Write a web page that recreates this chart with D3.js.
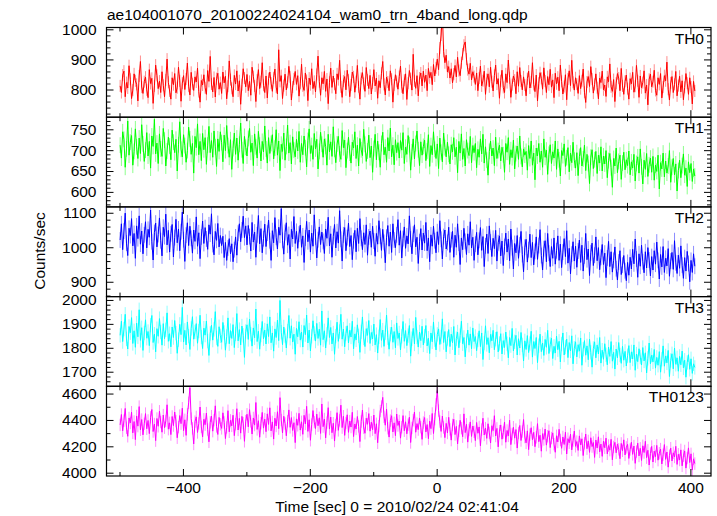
<!DOCTYPE html>
<html><head><meta charset="utf-8">
<script src="https://cdn.jsdelivr.net/npm/d3@7"></script>
<style>body{margin:0;background:#fff}svg{display:block;font-family:"Liberation Sans",Arial,sans-serif}</style>
</head><body><svg id="c" width="717" height="516"></svg>
<script>
const title = "ae104001070_20100224024104_wam0_trn_4band_long.qdp";
const xLabel = "Time [sec] 0 = 2010/02/24 02:41:04";
const yLabel = "Counts/sec";
const bandNames = ["TH0","TH1","TH2","TH3","TH0123"];
const bandColors = ["#ff0000","#00ff00","#0000ff","#00ffff","#ff00ff"];
const tStart = -499, binSize = 2;
const xTicksMajor = [-400,-200,0,200,400];
const xTicksMinor = [-500,-300,-100,100,300];
const yDomains = [[708,1006],[564,779],[857,1117],[1639,2014],[3975,4655]];
const yTicksMajor = [[800,900,1000],[600,650,700,750],[900,1000,1100],[1700,1800,1900,2000],[4000,4200,4400,4600]];
const yMinorStep = [20,10,20,20,100];
const errors = [20,19,23,30,47];

const th0 = [812,790,848,861,776,823,805,879,834,770,798,852,829,817,762,845,893,808,787,826,
841,799,773,866,820,837,754,812,881,847,803,828,790,859,814,776,832,901,824,795,
768,839,816,853,789,806,874,829,761,821,846,800,835,888,811,782,857,819,797,842,
825,871,793,758,830,815,849,806,784,863,827,910,818,792,840,775,836,854,801,823,
787,858,822,844,769,811,895,833,804,776,847,818,862,795,829,751,816,869,838,809,
850,796,827,781,874,843,812,760,831,866,803,826,889,814,790,845,772,836,858,821,
794,839,868,808,785,932,827,846,770,813,851,799,824,877,842,765,808,835,860,817,
846,778,821,884,812,797,855,830,763,838,816,869,803,827,792,850,911,826,781,839,
819,860,794,835,753,824,871,807,845,818,786,852,833,897,809,774,828,843,799,864,
831,776,815,858,842,791,826,880,809,768,837,856,820,794,873,832,803,847,785,822,
866,812,838,771,829,806,854,893,817,782,841,825,796,862,834,758,815,849,827,801,
843,878,809,786,831,852,767,821,863,836,798,917,829,804,846,779,838,855,812,861,
824,848,796,870,839,857,816,883,845,872,901,866,938,981,1052,927,889,914,858,876,
838,869,822,851,880,842,907,863,846,889,918,947,958,901,866,851,887,832,859,843,
817,855,796,838,878,812,829,861,784,833,852,809,874,826,795,847,881,818,836,771,
829,864,807,790,852,823,898,839,774,816,845,831,786,859,811,873,828,799,842,815,
779,836,861,805,825,889,817,793,848,762,821,856,837,801,872,828,790,843,816,867,
808,832,773,854,819,841,796,881,827,785,810,849,766,835,862,813,897,824,798,839,
818,787,846,803,829,868,791,757,825,843,810,876,835,788,817,852,806,769,838,823,
861,799,815,777,842,826,885,809,794,833,760,821,853,838,796,870,812,784,827,848,
803,768,836,819,857,791,811,880,829,774,845,806,823,862,788,815,749,834,851,809,
826,864,797,781,839,817,853,772,808,846,829,891,801,765,822,843,790,817,860,779,
813,844,792,829,766,807,853,821,784,839,808,752,827,795];
const th1 = [712,681,744,726,659,703,770,688,719,735,664,697,751,708,680,729,692,761,715,673,
700,742,686,721,657,734,709,774,691,717,668,739,703,685,752,724,662,698,731,710,
677,748,719,694,726,650,713,768,702,684,737,711,671,699,755,727,690,716,645,733,
706,763,689,721,675,740,701,730,666,712,757,694,723,683,746,708,661,727,697,744,
718,672,736,699,759,711,683,725,654,704,741,690,729,676,714,765,701,668,733,707,
686,728,752,695,717,663,739,708,681,745,712,674,721,696,758,703,669,730,692,716,
737,679,705,749,688,722,651,714,697,741,676,709,760,693,718,667,732,700,684,726,
698,745,671,716,689,734,706,660,723,751,692,711,678,740,703,726,655,697,743,714,
683,727,709,664,738,696,720,685,756,702,670,715,733,691,678,747,706,724,658,699,
731,693,669,719,705,744,680,712,662,728,701,687,750,714,673,698,736,682,710,647,
704,738,677,722,695,659,716,743,689,707,671,730,698,753,684,712,665,725,694,718,
681,723,700,742,668,707,690,735,713,652,696,727,679,716,746,701,663,720,688,709,
724,675,698,737,661,711,689,744,702,680,715,656,729,695,672,741,706,684,719,690,
667,713,696,730,684,707,646,721,693,739,678,704,662,725,699,687,733,670,711,694,
716,658,702,683,727,691,738,669,708,676,640,697,722,686,705,663,731,680,699,712,
674,707,689,647,716,695,730,666,701,682,724,655,692,710,678,734,685,660,703,688,
697,652,711,680,722,664,693,629,705,686,716,671,698,659,727,683,700,642,690,713,
668,696,681,722,654,703,677,638,699,687,715,661,682,706,648,693,670,719,676,657,
694,639,685,706,662,679,712,651,690,668,620,683,701,656,677,697,644,688,669,708,
650,686,667,699,634,675,692,658,611,680,662,705,646,673,688,630,669,695,653,677,
663,698,641,672,657,690,626,668,684,645,703,660,619,676,654,692,637,665,681,647,
685,628,664,649,688,607,670,655,693,636,674,645,662,699,623,659,680,641,667,602,
651,676,634,663,691,640,657,613,672,646,668,625,655,638];
const th2 = [1021,1068,993,1047,1099,1012,976,1055,1034,1083,1004,1040,968,1062,1025,1091,1009,1047,981,1036,
1074,998,1052,1029,1108,1016,963,1043,1070,1001,1037,1085,1019,975,1058,1031,1096,1007,1049,986,
1039,1066,972,1028,1081,1013,1053,990,1045,1102,1022,959,1035,1071,1005,1061,1026,983,1050,1017,
1088,1003,1042,967,1030,1076,1011,1057,1024,994,1065,1038,1097,1008,978,1046,1020,1069,1001,1034,
1005,1032,970,1014,962,998,1025,981,1010,958,993,1030,977,1041,1068,1016,1050,1090,1028,1062,
1007,1063,1031,989,1072,1015,1044,971,1036,1092,1010,1054,984,1025,1067,1002,1041,1079,1019,962,
1048,1013,1086,1029,995,1058,1035,1112,1020,980,1043,1071,1006,1037,966,1052,1024,1089,1011,1046,
997,1038,1064,1000,1033,956,1027,1075,1016,1050,986,1041,1003,1094,1030,969,1022,1059,1008,1044,
1017,982,1053,1026,1087,1004,1039,971,1031,1066,998,1045,1012,1106,1023,960,1036,1057,990,1028,
1070,1002,1034,964,1019,1049,987,1055,1011,1083,1026,993,1042,1008,1065,977,1030,1047,1000,1061,
1018,974,1040,1009,1077,1032,991,1052,1014,955,1029,1063,1003,1044,985,1068,1021,999,1036,1080,
1006,1048,969,1025,1059,997,1033,1010,1091,1024,981,1038,1065,1001,1029,953,1016,1054,992,1041,
1012,1072,990,1027,958,1036,1003,1061,1019,984,1045,1008,1077,1023,966,1031,1050,995,1014,1058,
985,1022,1046,971,1035,1000,1068,1012,950,1027,993,1055,1017,979,1039,1006,1074,998,1029,962,
1009,1043,978,1020,1057,991,1031,944,1004,1038,982,1062,1015,973,1026,996,1049,960,1013,1033,
975,1018,947,1002,1041,986,1024,961,1053,999,937,1011,984,1034,968,1007,1046,979,929,1000,
1023,957,993,1038,970,1014,949,988,1030,965,1005,1051,976,934,996,1019,958,1040,983,944,
1002,968,1027,951,990,1033,962,1009,941,986,1025,973,1048,954,997,923,980,1016,960,1003,
942,989,1021,956,1006,931,975,1040,964,995,918,984,1012,947,977,1030,961,999,935,971,
1008,950,983,912,969,1017,944,987,928,962,1001,938,905,957,990,921,948,976,932,903,
956,919,971,937,994,952,1024,966,913,981,945,1006,958,926,987,940,999,963,917,973,
934,990,951,1015,962,908,979,943,1002,927,968,946,996,916,960,985,936,1019,955,924,
977,939,1004,948,910,970,931,988,953,900,962,927,981,945];
const th3 = [1852,1911,1826,1878,1940,1837,1795,1889,1863,1926,1818,1871,1802,1903,1846,1959,1831,1884,1789,1862,
1917,1840,1868,1809,1895,1935,1822,1857,1783,1880,1848,1922,1866,1811,1901,1838,1875,1946,1827,1859,
1804,1887,1843,1914,1861,1777,1834,1898,1855,1969,1824,1873,1812,1908,1849,1793,1881,1930,1836,1866,
1901,1819,1870,1936,1845,1797,1882,1853,1912,1828,1768,1860,1894,1832,1877,1951,1841,1806,1888,1850,
1823,1906,1864,1790,1847,1925,1817,1872,1839,1897,1801,1858,1943,1829,1876,1812,1891,1852,1760,1868,
1896,1835,1920,1857,1807,1883,1842,1962,1826,1869,1794,1853,1910,1838,1874,1816,1900,1847,1929,1821,
1862,1786,1879,1843,1916,1830,1998,1865,1813,1887,1851,1799,1870,1935,1840,1892,1824,1857,1773,1881,
1846,1909,1832,1866,1803,1893,1855,1937,1820,1874,1787,1848,1913,1860,1828,1902,1839,1878,1811,1954,
1834,1871,1799,1856,1925,1843,1885,1816,1862,1773,1849,1907,1827,1868,1940,1836,1878,1804,1860,1892,
1820,1873,1845,1911,1796,1858,1833,1896,1850,1781,1867,1929,1841,1805,1880,1852,1914,1818,1864,1837,
1899,1812,1855,1778,1846,1918,1831,1874,1806,1863,1937,1842,1794,1857,1886,1823,1868,1800,1904,1839,
1862,1791,1848,1910,1827,1872,1809,1851,1893,1765,1838,1881,1816,1927,1845,1803,1866,1830,1890,1812,
1849,1893,1808,1840,1776,1862,1825,1908,1834,1791,1856,1879,1814,1845,1921,1822,1868,1783,1839,1876,
1805,1857,1821,1889,1770,1838,1866,1800,1851,1911,1817,1843,1762,1829,1874,1811,1858,1796,1883,1826,
1847,1788,1833,1871,1805,1862,1751,1820,1892,1814,1842,1779,1856,1829,1873,1792,1836,1867,1783,1818,
1859,1774,1830,1801,1866,1817,1758,1843,1809,1881,1787,1825,1852,1770,1838,1799,1864,1812,1745,1829,
1793,1851,1780,1818,1869,1761,1826,1797,1843,1738,1809,1857,1784,1820,1768,1835,1802,1873,1776,1814,
1840,1755,1806,1778,1849,1792,1827,1741,1816,1862,1770,1803,1836,1759,1822,1787,1850,1733,1798,1825,
1762,1813,1786,1841,1727,1794,1830,1769,1808,1750,1836,1781,1719,1797,1825,1758,1812,1774,1843,1736,
1790,1752,1817,1771,1729,1803,1764,1826,1744,1781,1711,1795,1758,1822,1770,1735,1806,1748,1785,1724,
1767,1809,1738,1783,1753,1812,1706,1774,1742,1796,1761,1728,1801,1745,1779,1695,1756,1820,1733,1769,
1741,1793,1715,1760,1727,1784,1698,1752,1808,1723,1766,1737,1789,1680,1747,1775,1712,1799,1731,1758,
1702,1764,1729,1786,1716,1748,1677,1739,1771,1710,1754,1693,1733,1718];
const th0123 = [4362,4441,4318,4395,4487,4340,4276,4415,4377,4459,4302,4388,4251,4430,4353,4501,4325,4403,4287,4371,
4448,4333,4396,4296,4420,4479,4312,4369,4243,4411,4352,4466,4384,4307,4437,4341,4392,4515,4330,4378,
4289,4426,4357,4460,4391,4265,4346,4433,4372,4489,4319,4401,4283,4442,4530,4645,4410,4336,4218,4387,
4423,4305,4374,4498,4347,4272,4405,4364,4452,4327,4234,4382,4429,4315,4398,4507,4350,4290,4419,4367,
4336,4454,4381,4259,4343,4470,4310,4397,4355,4436,4281,4368,4485,4324,4412,4300,4427,4376,4238,4391,
4443,4348,4478,4389,4293,4415,4361,4532,4328,4394,4269,4375,4457,4338,4406,4311,4446,4366,4492,4317,
4385,4255,4413,4354,4462,4334,4569,4399,4302,4428,4373,4280,4390,4476,4344,4418,4320,4379,4228,4408,
4359,4450,4323,4386,4291,4435,4370,4503,4313,4401,4246,4365,4471,4383,4335,4444,4356,4416,4298,4521,
4349,4407,4264,4380,4493,4331,4422,4303,4375,4240,4362,4455,4321,4397,4512,4342,4428,4283,4377,4439,
4306,4391,4346,4458,4274,4369,4332,4426,4351,4236,4388,4475,4340,4299,4413,4367,4448,4315,4383,4326,
4437,4296,4371,4227,4353,4468,4502,4571,4424,4360,4482,4337,4270,4395,4432,4309,4378,4281,4445,4358,
4392,4262,4345,4433,4318,4386,4295,4364,4421,4229,4339,4398,4460,4307,4372,4327,4415,4345,4253,4380,
4418,4309,4365,4258,4391,4334,4449,4297,4406,4518,4622,4471,4388,4313,4429,4343,4266,4374,4301,4420,
4328,4247,4362,4405,4289,4351,4218,4316,4397,4338,4273,4446,4304,4367,4232,4324,4385,4275,4354,4310,
4243,4381,4299,4347,4204,4327,4413,4286,4338,4260,4371,4302,4225,4356,4319,4432,4278,4336,4196,4315,
4362,4254,4305,4384,4231,4320,4279,4398,4213,4293,4345,4262,4327,4187,4301,4358,4244,4312,4403,4270,
4226,4317,4175,4289,4341,4250,4306,4197,4268,4372,4235,4284,4163,4296,4252,4331,4209,4277,4318,4190,
4263,4302,4216,4155,4280,4233,4329,4248,4185,4271,4214,4307,4142,4258,4227,4292,4173,4244,4316,4200,
4236,4169,4279,4211,4257,4130,4223,4293,4182,4241,4154,4265,4198,4229,4116,4248,4187,4272,4158,4217,
4124,4240,4189,4262,4143,4206,4171,4253,4098,4195,4230,4151,4218,4177,4106,4222,4166,4249,4135,4192,
4215,4108,4176,4231,4139,4202,4071,4160,4224,4127,4185,4093,4204,4153,4238,4114,4170,4058,4146,4199,
4081,4163,4122,4207,4095,4148,4179,4066,4136,4213,4101,4157,4042,4130,4186,4089,4151,4119,4200,4063,
4140,4096,4173,4052,4128,4165,4035,4111,4188,4077,4143,4020,4105,4069];
const series = [th0, th1, th2, th3, th0123];

const svg = d3.select("#c");
const left = 106.5, right = 711, top0 = 27.5, panelH = 89.7;
const x = d3.scaleLinear().domain([-520.5, 432.5]).range([left, right]);
const fontSize = 15.5;

svg.append("text").attr("x", 107).attr("y", 19.5).attr("font-size", fontSize).text(title);

series.forEach((vals, k) => {
  const t = top0 + k * panelH, b = t + panelH;
  const y = d3.scaleLinear().domain(yDomains[k]).range([b, t]);
  const g = svg.append("g");
  const clipId = "clip" + k;
  svg.append("clipPath").attr("id", clipId).append("rect")
    .attr("x", left).attr("y", t).attr("width", right - left).attr("height", b - t);
  const data = vals.map((v, i) => ({t: tStart + i * binSize, v}));
  const dg = g.append("g").attr("clip-path", `url(#${clipId})`);
  dg.selectAll("line.err").data(data).join("line").attr("class","err")
    .attr("x1", d => x(d.t)).attr("x2", d => x(d.t))
    .attr("y1", d => y(d.v - errors[k])).attr("y2", d => y(d.v + errors[k]))
    .attr("stroke", bandColors[k]).attr("stroke-opacity", 0.45).attr("stroke-width", 1);
  dg.append("path").datum(data)
    .attr("d", d3.line().x(d => x(d.t)).y(d => y(d.v)))
    .attr("fill", "none").attr("stroke", bandColors[k]).attr("stroke-width", 1);

  const [d0, d1] = yDomains[k];
  const minors = d3.range(Math.ceil(d0 / yMinorStep[k]) * yMinorStep[k], d1 + 0.001, yMinorStep[k])
    .filter(v => !yTicksMajor[k].includes(v));
  const axL = g.append("g").attr("transform", `translate(${left},0)`)
    .call(d3.axisLeft(y).tickValues(minors).tickSize(-4).tickFormat(""));
  const axR = g.append("g").attr("transform", `translate(${right},0)`)
    .call(d3.axisRight(y).tickValues(minors).tickSize(-4).tickFormat(""));
  const axLM = g.append("g").attr("transform", `translate(${left},0)`)
    .call(d3.axisLeft(y).tickValues(yTicksMajor[k]).tickSize(-7).tickPadding(10).tickFormat(d3.format("d")));
  const axRM = g.append("g").attr("transform", `translate(${right},0)`)
    .call(d3.axisRight(y).tickValues(yTicksMajor[k]).tickSize(-7).tickFormat(""));
  const axT = g.append("g").attr("transform", `translate(0,${t})`)
    .call(d3.axisTop(x).tickValues(xTicksMajor).tickSize(-7).tickFormat(""));
  const axTm = g.append("g").attr("transform", `translate(0,${t})`)
    .call(d3.axisTop(x).tickValues(xTicksMinor).tickSize(-4).tickFormat(""));
  const axB = g.append("g").attr("transform", `translate(0,${b})`)
    .call(d3.axisBottom(x).tickValues(xTicksMajor).tickSize(-7).tickPadding(6)
      .tickFormat(k === series.length - 1 ? (d => d < 0 ? "\u2212" + Math.abs(d) : String(d)) : ""));
  const axBm = g.append("g").attr("transform", `translate(0,${b})`)
    .call(d3.axisBottom(x).tickValues(xTicksMinor).tickSize(-4).tickFormat(""));
  [axL, axR, axLM, axRM, axT, axTm, axB, axBm].forEach(a => {
    a.select(".domain").remove();
    a.selectAll("line").attr("stroke", "#000");
    a.selectAll("text").attr("font-size", fontSize).attr("fill", "#000")
      .attr("font-family", '"Liberation Sans",Arial,sans-serif');
  });
  g.append("rect").attr("x", left).attr("y", t).attr("width", right - left).attr("height", b - t)
    .attr("fill", "none").attr("stroke", "#000").attr("stroke-width", 1.2);
  g.append("text").attr("x", 704).attr("y", t + 16).attr("text-anchor", "end")
    .attr("font-size", fontSize).text(bandNames[k]);
});

svg.append("text").attr("x", 397).attr("y", 512).attr("text-anchor", "middle")
  .attr("font-size", fontSize).text(xLabel);
svg.append("text").attr("transform", "translate(45,251) rotate(-90)").attr("text-anchor", "middle")
  .attr("font-size", fontSize).text(yLabel);
</script></body></html>
